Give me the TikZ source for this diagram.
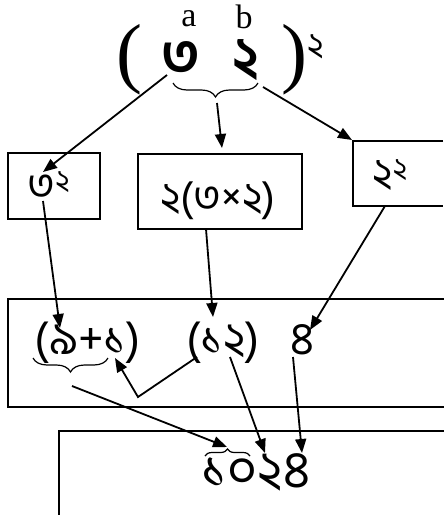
\documentclass[tikz,border=0pt]{standalone}
\usepackage{fontspec}
\setmainfont{Liberation Serif}
\newfontfamily\bnfont[Script=Bengali]{Hind Siliguri}
\usetikzlibrary{arrows.meta, decorations.pathreplacing, positioning}

\newcommand{\fsz}[1]{\fontsize{#1}{#1}\selectfont}

\begin{document}
\begin{tikzpicture}[x=1pt, y=-1pt,
    box/.style={draw, line width=1.7pt},
    bn/.style={inner sep=0pt, font=\bnfont\fsz{#1}},
    bn/.default=40,
    arrow/.style={-{Triangle[length=14pt,width=11pt]}, line width=1.8pt},
    brc/.style={decorate, decoration={brace, amplitude=#1}, line width=1.2pt},
    brc/.default=14pt,
]
\useasboundingbox (0,0) rectangle (444,515);

% top expression
\node[inner sep=0pt, font=\fsz{78}] (lpar) at (129,60) {(};
\node[inner sep=0pt, font=\bnfont\bfseries\fsz{56}] (dthree) at (181,58) {৩};
\node[inner sep=0pt, font=\bnfont\bfseries\fsz{56}] (dtwo)   at (246,60) {২};
\node[inner sep=0pt, font=\fsz{78}] (rpar) at (294,60) {)};
\node[bn=34] (pow) at (316,47) {২};
\node[inner sep=0pt, font=\fsz{34}] (la) at (189,19) {a};
\node[inner sep=0pt, font=\fsz{34}] (lb) at (244,17) {b};
\draw[brc] (258,83) -- (173,83);
\coordinate (topbr) at (217,103);
\coordinate (topl) at (167,75);
\coordinate (topr) at (263,87);

% boxes of the second row
\node[box, minimum width=92pt, minimum height=66pt]  (sqa)  at (54,186)   {};
\node[box, minimum width=164pt, minimum height=75pt] (prod) at (220,191.5) {};
\draw[box] (443.2,141) -- (353,141) -- (353,206) -- (443.2,206);
\node[bn=42] (sqatxt)  at (49,186)  {৩\textsuperscript{২}};
\node[bn=42] (prodtxt) at (218,201) {২(৩×২)};
\node[bn=42] (sqbtxt)  at (390,175) {২\textsuperscript{২}};
\coordinate (sqain)  at (43,172);
\coordinate (sqaout) at (43,201);
\coordinate (prodin) at (222,148);
\coordinate (prodout) at (206,229);
\coordinate (sqbin)  at (352,140);
\coordinate (sqbout) at (385,206);

% third row
\draw[box] (444,299) -- (8,299) -- (8,407) -- (444,407);
\node[bn=46] (sum)   at (88,343)  {(৯+১)};
\node[bn=46] (carry) at (223,343) {(১২)};
\node[bn=46] (four)  at (302,340) {৪};
\draw[brc] (108,358) -- (33,358);
\coordinate (sumbr) at (72,386);
\coordinate (sumin) at (60,328);
\coordinate (onein) at (115,358);
\coordinate (carryin) at (213,317);
\coordinate (carryl) at (197,357);
\coordinate (bend) at (138,397);
\coordinate (carryr) at (230,357);
\coordinate (fourin) at (310,330);
\coordinate (fourout) at (293,357);

% result
\draw[box] (444,431) -- (59,431) -- (59,515);
\node[bn=52] (res) at (256,472) {১০২৪};
\draw[brc=7pt] (205,456) -- (250,456);
\coordinate (resa) at (227,447);
\coordinate (resb) at (265,453);
\coordinate (resc) at (302,453);

% arrows from the top
\draw[arrow] (topl) -- (sqain);
\draw[arrow] (topbr) -- (prodin);
\draw[arrow] (topr) -- (sqbin);

% arrows to the third row
\draw[arrow] (sqaout) -- (sumin);
\draw[arrow] (prodout) -- (carryin);
\draw[arrow] (sqbout) -- (fourin);
\draw[arrow] (carryl) -- (bend) -- (onein);

% arrows to the result
\draw[arrow] (sumbr) -- (resa);
\draw[arrow] (carryr) -- (resb);
\draw[arrow] (fourout) -- (resc);
\end{tikzpicture}
\end{document}
